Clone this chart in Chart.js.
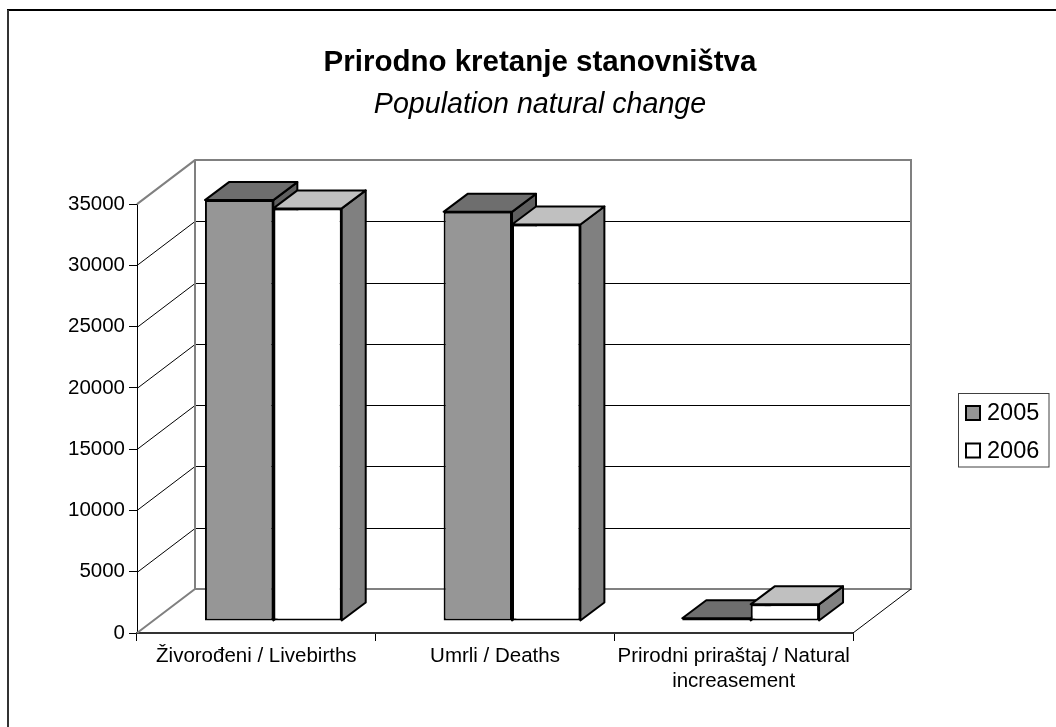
<!DOCTYPE html>
<html><head><meta charset="utf-8">
<style>html,body{margin:0;padding:0;background:#fff;overflow:hidden}#w{width:1056px;height:727px;position:relative}canvas{display:block}</style>
<script src="https://cdn.jsdelivr.net/npm/chart.js@4"></script></head>
<body><div id="w"><canvas id="c" width="1056" height="727"></canvas></div>
<script>
const categories = [["Živorođeni / Livebirths"], ["Umrli / Deaths"], ["Prirodni priraštaj / Natural", "increasement"]];
const series2005 = [34350, 33390, 220];
const series2006 = [33670, 32360, 1360];
const yTicks = [0, 5000, 10000, 15000, 20000, 25000, 30000, 35000];
const seriesNames = ["2005", "2006"];
const titleMain = "Prirodno kretanje stanovništva";
const titleSub = "Population natural change";

const DEPTH_X = 58, DEPTH_Y = 44;   // back wall offset
const BAR_DX = 17, BAR_DY = 12;     // bars' front plane inside the floor
const BD_X = 24, BD_Y = 18;         // bar depth
const FONT = '"Liberation Sans"';
const FACE_SHADES = [['#6e6e6e', '#5f5f5f'], ['#c0c0c0', '#808080']];

const sceneBack = {
  id: 'sceneBack',
  beforeDatasetsDraw(ch) {
    const c = ch.ctx, {left, right, top, bottom} = ch.chartArea, y = ch.scales.y;
    c.save();
    // outer frame: top and left edges only
    c.lineWidth = 2;
    c.strokeStyle = '#000';
    c.beginPath(); c.moveTo(7, 10); c.lineTo(1056, 10); c.stroke();
    c.strokeStyle = '#333';
    c.beginPath(); c.moveTo(8, 10); c.lineTo(8, 727); c.stroke();
    // interior grid on back wall and left wall
    c.strokeStyle = '#000'; c.lineWidth = 1;
    yTicks.forEach(v => {
      if (v === 0 || v === 35000) return;
      const p = Math.round(y.getPixelForValue(v));
      c.beginPath(); c.moveTo(left, p + .5); c.lineTo(left + DEPTH_X, p - DEPTH_Y + .5);
      c.lineTo(right + DEPTH_X, p - DEPTH_Y + .5); c.stroke();
    });
    // grey walls
    c.strokeStyle = '#808080'; c.lineWidth = 2;
    c.beginPath();
    c.moveTo(left, top); c.lineTo(left + DEPTH_X, top - DEPTH_Y);
    c.lineTo(right + DEPTH_X, top - DEPTH_Y); c.lineTo(right + DEPTH_X, bottom - DEPTH_Y);
    c.lineTo(left + DEPTH_X, bottom - DEPTH_Y); c.lineTo(left, bottom);
    c.moveTo(left + DEPTH_X, top - DEPTH_Y); c.lineTo(left + DEPTH_X, bottom - DEPTH_Y);
    c.stroke();
    // right floor edge
    c.strokeStyle = '#000'; c.lineWidth = 1;
    c.beginPath(); c.moveTo(right, bottom); c.lineTo(right + DEPTH_X, bottom - DEPTH_Y); c.stroke();
    c.restore();
    // all bars share a front plane that sits inside the floor
    c.save();
    c.translate(BAR_DX, -BAR_DY);
    // depth faces first, series by series, then the library draws the front faces
    c.strokeStyle = '#000'; c.lineWidth = 2; c.lineJoin = 'round';
    FACE_SHADES.forEach((shades, i) => {
      ch.getDatasetMeta(i).data.forEach(b => {
        const l = b.x - b.width / 2, r = b.x + b.width / 2, t = b.y, bt = b.base;
        c.fillStyle = shades[1];
        c.beginPath(); c.moveTo(r, t); c.lineTo(r + BD_X, t - BD_Y); c.lineTo(r + BD_X, bt - BD_Y);
        c.lineTo(r, bt); c.closePath(); c.fill(); c.stroke();
        c.fillStyle = shades[0];
        c.beginPath(); c.moveTo(l, t); c.lineTo(l + BD_X, t - BD_Y); c.lineTo(r + BD_X, t - BD_Y);
        c.lineTo(r, t); c.closePath(); c.fill(); c.stroke();
      });
    });
  },
  afterDatasetsDraw(ch) {
    ch.ctx.restore();
  }
};

const legendBox = {
  id: 'legendBox',
  afterDraw(ch) {
    const c = ch.ctx;
    c.save();
    c.strokeStyle = '#404040'; c.lineWidth = 1; c.strokeRect(958.5, 393.5, 90.5, 73.5);
    [['#969696', 413], ['#ffffff', 450.5]].forEach(([f, y], i) => {
      c.fillStyle = f; c.strokeStyle = '#000'; c.lineWidth = 2;
      c.fillRect(966, y - 7, 14, 14); c.strokeRect(966, y - 7, 14, 14);
      c.fillStyle = '#000'; c.font = '23.5px ' + FONT; c.textBaseline = 'middle'; c.textAlign = 'left';
      c.fillText(seriesNames[i], 987, y + 1);
    });
    c.restore();
  }
};

new Chart(document.getElementById('c'), {
  type: 'bar',
  data: {
    labels: categories,
    datasets: [
      {label: seriesNames[0], data: series2005, backgroundColor: '#969696', borderColor: '#000', borderWidth: 2, borderSkipped: false},
      {label: seriesNames[1], data: series2006, backgroundColor: '#ffffff', borderColor: '#000', borderWidth: 2, borderSkipped: false}
    ]
  },
  plugins: [sceneBack, legendBox],
  options: {
    responsive: false, animation: false,
    layout: {padding: {left: 24, top: 0, right: 0, bottom: 0}},
    datasets: {bar: {categoryPercentage: 0.573, barPercentage: 1}},
    plugins: {
      legend: {display: false},
      tooltip: {enabled: false},
      title: {display: true, text: titleMain, color: '#000', font: {family: FONT, size: 29.5, weight: 'bold'}, position: 'top', padding: {top: 45, bottom: 0}},
      subtitle: {display: true, text: titleSub, color: '#000', font: {family: FONT, size: 28.6, style: 'italic', weight: 'normal'}, padding: {top: 7.4, bottom: 82}}
    },
    scales: {
      x: {
        grid: {display: true, drawOnChartArea: false, drawTicks: true, tickLength: 8, color: '#000', offset: true},
        border: {display: true, color: '#333', width: 2},
        ticks: {color: '#000', font: {family: FONT, size: 20.5}, maxRotation: 0, padding: 3, autoSkip: false},
        afterFit(s) { s.height = 94; }
      },
      y: {
        min: 0, max: 35000,
        grid: {display: true, drawOnChartArea: false, drawTicks: true, tickLength: 8, color: '#000'},
        border: {display: true, color: '#000', width: 1},
        ticks: {color: '#000', stepSize: 5000, font: {family: FONT, size: 20.5}, padding: 4, callback: v => String(v)},
        afterFit(s) { s.width = 113; }
      },
      yRightSpace: {
        position: 'right', display: true,
        grid: {display: false}, border: {display: false}, ticks: {display: false},
        afterFit(s) { s.width = 203; }
      }
    }
  }
});
</script></body></html>
